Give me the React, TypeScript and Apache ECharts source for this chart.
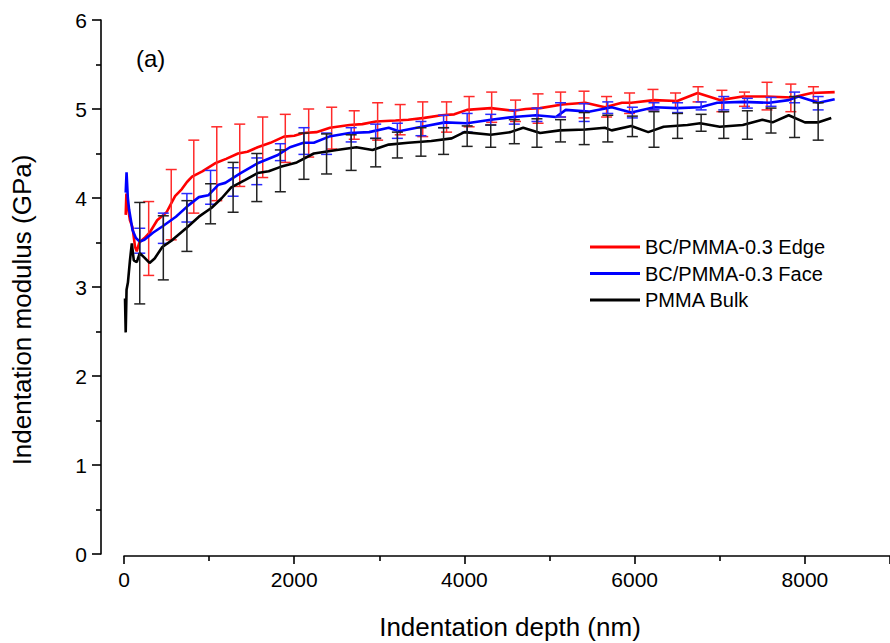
import React, { useEffect, useRef } from "react";
import * as echarts from "echarts";

const FONT = '"Liberation Sans", Arial, Helvetica, sans-serif';

const seriesNames = ["BC/PMMA-0.3 Edge", "BC/PMMA-0.3 Face", "PMMA Bulk"];
const colors = ["#ff0000", "#0000ff", "#000000"];
const barColors = ["#ff2a2a", "#2a2aff", "#222222"];

// Edge (red) curve: [depth nm, modulus GPa]
const edgeCurve: number[][] = [
  [20, 3.81], [28, 4.05], [45, 3.9], [70, 3.75], [100, 3.67], [130, 3.45], [150, 3.4], [180, 3.5],
  [240, 3.55], [300, 3.61], [390, 3.75], [500, 3.84], [600, 4.02], [680, 4.1], [740, 4.18], [800, 4.24],
  [920, 4.3], [1070, 4.39], [1200, 4.44], [1340, 4.5], [1450, 4.52], [1570, 4.57], [1720, 4.62], [1880, 4.69],
  [2000, 4.7], [2110, 4.73], [2260, 4.74], [2420, 4.79], [2650, 4.82], [2800, 4.83], [2960, 4.86], [3190, 4.87],
  [3340, 4.88], [3530, 4.9], [3730, 4.93], [3880, 4.94], [4030, 4.99], [4310, 5.01], [4575, 4.98], [4720, 5.0],
  [4890, 5.01], [5150, 5.05], [5420, 5.07], [5650, 5.02], [5850, 5.07], [5960, 5.07], [6230, 5.1], [6500, 5.09],
  [6740, 5.18], [7000, 5.1], [7270, 5.14], [7540, 5.14], [7850, 5.13], [8080, 5.18], [8350, 5.19],
];

// Face (blue) curve
const faceCurve: number[][] = [
  [20, 4.06], [30, 4.29], [45, 4.0], [60, 3.87], [100, 3.64], [140, 3.55], [185, 3.51], [240, 3.53],
  [340, 3.61], [450, 3.68], [610, 3.79], [760, 3.92], [880, 4.01], [990, 4.03], [1110, 4.15], [1190, 4.17],
  [1370, 4.28], [1570, 4.39], [1800, 4.48], [1950, 4.57], [2110, 4.62], [2230, 4.62], [2410, 4.69], [2650, 4.73],
  [2880, 4.74], [3110, 4.79], [3230, 4.75], [3500, 4.8], [3770, 4.85], [4030, 4.84], [4310, 4.88], [4575, 4.91],
  [4840, 4.93], [5075, 4.91], [5190, 4.99], [5460, 4.97], [5730, 5.02], [5960, 4.96], [6230, 5.02], [6500, 5.01],
  [6770, 5.02], [6970, 5.07], [7270, 5.08], [7580, 5.07], [7810, 5.1], [7925, 5.14], [8160, 5.07], [8350, 5.11],
];

// Bulk (black) curve
const bulkCurve: number[][] = [
  [12, 2.87], [20, 2.49], [30, 2.97], [46, 3.05], [70, 3.3], [92, 3.49], [115, 3.3], [150, 3.28],
  [185, 3.38], [240, 3.33], [300, 3.27], [360, 3.32], [450, 3.45], [570, 3.53], [730, 3.66], [880, 3.79],
  [1030, 3.89], [1150, 4.0], [1260, 4.12], [1420, 4.2], [1570, 4.28], [1700, 4.3], [1840, 4.35], [2030, 4.4],
  [2230, 4.5], [2500, 4.54], [2730, 4.57], [2920, 4.54], [3110, 4.6], [3340, 4.62], [3610, 4.64], [3850, 4.67],
  [4000, 4.74], [4310, 4.71], [4540, 4.74], [4690, 4.79], [4890, 4.73], [5120, 4.76], [5420, 4.77], [5650, 4.79],
  [5730, 4.76], [5960, 4.81], [6160, 4.74], [6340, 4.8], [6620, 4.82], [6770, 4.84], [7000, 4.8], [7270, 4.82],
  [7500, 4.88], [7620, 4.85], [7810, 4.93], [8000, 4.85], [8160, 4.85], [8310, 4.9],
];

// Error bars
const edgeErrDepth = [290, 555, 820, 1090, 1360, 1630, 1895, 2170, 2440, 2705, 2980, 3245, 3510, 3790, 4055, 4320, 4600, 4865, 5130, 5405, 5670, 5940, 6215, 6480, 6745, 7025, 7290, 7555, 7835, 8100];
const edgeErrHigh = [3.96, 4.32, 4.65, 4.8, 4.83, 4.91, 4.94, 5.0, 5.02, 4.98, 5.07, 5.05, 5.08, 5.08, 5.14, 5.19, 5.1, 5.17, 5.19, 5.2, 5.14, 5.18, 5.22, 5.18, 5.25, 5.21, 5.19, 5.3, 5.28, 5.25];
const edgeErrLow = [3.13, 3.53, 3.83, 3.97, 4.13, 4.23, 4.4, 4.46, 4.55, 4.66, 4.65, 4.71, 4.69, 4.74, 4.8, 4.85, 4.86, 4.84, 4.91, 4.9, 4.91, 4.95, 4.99, 5.01, 5.08, 4.97, 5.03, 4.99, 4.97, 5.1];

const sharedErrDepth = [185, 462, 739, 1017, 1282, 1560, 1837, 2114, 2380, 2669, 2957, 3212, 3489, 3755, 4032, 4309, 4586, 4852, 5129, 5407, 5684, 5973, 6227, 6504, 6781, 7047, 7324, 7602, 7879, 8156];
const faceErrHigh = [3.66, 3.83, 4.05, 4.31, 4.34, 4.45, 4.61, 4.79, 4.73, 4.79, 4.83, 4.84, 4.86, 4.93, 4.95, 4.94, 4.99, 5.01, 5.07, 5.06, 5.08, 5.02, 5.07, 5.07, 5.08, 5.14, 5.12, 5.13, 5.19, 5.14];
const faceErrLow = [3.38, 3.49, 3.73, 3.93, 4.02, 4.15, 4.42, 4.49, 4.49, 4.63, 4.67, 4.67, 4.7, 4.79, 4.74, 4.82, 4.83, 4.86, 4.91, 4.86, 4.95, 4.9, 4.99, 4.96, 4.99, 4.99, 5.01, 5.03, 5.07, 4.99];
const bulkErrHigh = [3.95, 3.8, 3.97, 4.16, 4.4, 4.5, 4.54, 4.73, 4.72, 4.71, 4.67, 4.74, 4.79, 4.79, 4.81, 4.82, 4.88, 4.89, 4.88, 4.96, 4.93, 4.92, 4.97, 4.95, 4.94, 4.97, 4.98, 5.01, 5.14, 5.07];
const bulkErrLow = [2.81, 3.08, 3.4, 3.71, 3.84, 3.96, 4.07, 4.21, 4.27, 4.31, 4.35, 4.45, 4.47, 4.49, 4.58, 4.57, 4.61, 4.57, 4.63, 4.6, 4.63, 4.69, 4.57, 4.67, 4.75, 4.67, 4.66, 4.73, 4.68, 4.65];

const xTicks = { min: 0, max: 9000, interval: 2000 };
const yTicks = { min: 0, max: 6, interval: 1 };

function errData(depth: number[], low: number[], high: number[]) {
  return depth.map((d, i) => [d, low[i], high[i]]);
}

function errSeries(name: string, data: number[][], color: string, z: number) {
  return {
    type: "custom",
    name: name + " error",
    z,
    data,
    encode: { x: 0, y: [1, 2] },
    renderItem: (params: any, api: any) => {
      const x = api.value(0);
      const lo = api.coord([x, api.value(1)]);
      const hi = api.coord([x, api.value(2)]);
      const hw = 5.5;
      const style = { stroke: color, lineWidth: 1.5 };
      return {
        type: "group",
        children: [
          { type: "line", shape: { x1: hi[0], y1: hi[1], x2: lo[0], y2: lo[1] }, style },
          { type: "line", shape: { x1: hi[0] - hw, y1: hi[1], x2: hi[0] + hw, y2: hi[1] }, style },
          { type: "line", shape: { x1: lo[0] - hw, y1: lo[1], x2: lo[0] + hw, y2: lo[1] }, style },
        ],
      };
    },
  };
}

function lineSeries(name: string, data: number[][], color: string, z: number) {
  return {
    type: "line",
    name,
    data,
    z,
    showSymbol: false,
    symbol: "none",
    color,
    lineStyle: { color, width: 2.6 },
  };
}

export default function App() {
  const ref = useRef<HTMLDivElement>(null);
  useEffect(() => {
    if (!ref.current) return;
    const chart = echarts.init(ref.current, undefined, { renderer: "svg" });
    const axisLineStyle = { color: "#000", width: 1.6 };
    const option: any = {
      animation: false,
      backgroundColor: "#fff",
      grid: { left: 124, top: 20, width: 779, height: 534 },
      xAxis: {
        type: "value",
        min: xTicks.min,
        max: xTicks.max,
        interval: xTicks.interval,
        offset: 2,
        axisLine: { show: true, onZero: false, lineStyle: axisLineStyle },
        axisTick: { show: true, length: 8, lineStyle: axisLineStyle },
        minorTick: { show: true, splitNumber: 2, length: 5, lineStyle: axisLineStyle },
        splitLine: { show: false },
        minorSplitLine: { show: false },
        axisLabel: {
          fontSize: 21, color: "#000", margin: 13, fontFamily: FONT, showMaxLabel: false,
          formatter: (v: number) => String(v),
        },
      },
      yAxis: {
        type: "value",
        min: yTicks.min,
        max: yTicks.max,
        interval: yTicks.interval,
        offset: 23,
        axisLine: { show: true, onZero: false, lineStyle: axisLineStyle },
        axisTick: { show: true, length: 9, lineStyle: axisLineStyle },
        minorTick: { show: true, splitNumber: 2, length: 5, lineStyle: axisLineStyle },
        splitLine: { show: false },
        minorSplitLine: { show: false },
        axisLabel: { fontSize: 21, color: "#000", margin: 14, fontFamily: FONT, formatter: (v: number) => String(v) },
      },
      legend: {
        orient: "vertical",
        left: 590,
        top: 237,
        padding: 0,
        itemWidth: 50,
        itemHeight: 3,
        itemGap: 6.5,
        icon: "rect",
        data: seriesNames,
        textStyle: { fontSize: 20, color: "#000", fontFamily: FONT },
      },
      graphic: [
        {
          type: "text",
          x: 136,
          y: 58,
          style: { text: "(a)", fontSize: 24, fill: "#000", fontFamily: FONT, verticalAlign: "middle", align: "left" },
        },
        {
          type: "text",
          x: 510,
          y: 627,
          style: { text: "Indentation depth (nm)", fontSize: 26, fill: "#000", fontFamily: FONT, align: "center", verticalAlign: "middle" },
        },
        {
          type: "text",
          x: 22,
          y: 310,
          rotation: Math.PI / 2,
          style: { text: "Indentation modulus (GPa)", fontSize: 26, fill: "#000", fontFamily: FONT, align: "center", verticalAlign: "middle" },
        },
      ],
      series: [
        lineSeries(seriesNames[0], edgeCurve, colors[0], 2),
        errSeries(seriesNames[0], errData(edgeErrDepth, edgeErrLow, edgeErrHigh), barColors[0], 3),
        lineSeries(seriesNames[1], faceCurve, colors[1], 4),
        errSeries(seriesNames[1], errData(sharedErrDepth, faceErrLow, faceErrHigh), barColors[1], 5),
        lineSeries(seriesNames[2], bulkCurve, colors[2], 6),
        errSeries(seriesNames[2], errData(sharedErrDepth, bulkErrLow, bulkErrHigh), barColors[2], 7),
      ],
    };
    chart.setOption(option);
    return () => chart.dispose();
  }, []);
  return (
    <div
      ref={ref}
      style={{ position: "absolute", left: 0, top: 0, width: 890, height: 643, background: "#fff" }}
    />
  );
}
